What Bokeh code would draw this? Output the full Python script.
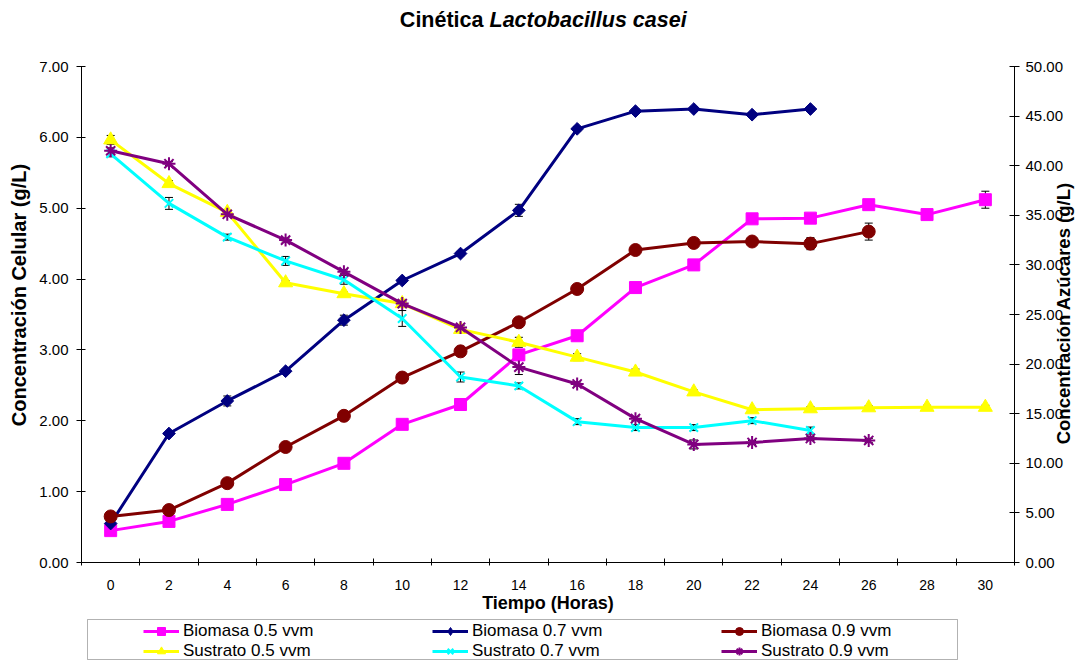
import math
from bokeh.plotting import figure
from bokeh.layouts import column
from bokeh.models import (Range1d, LinearAxis, FixedTicker, PrintfTickFormatter, Legend,
                          LegendItem, ColumnDataSource, Whisker, TeeHead, Label, BoxAnnotation)
from bokeh.embed import file_html
from bokeh.resources import INLINE

# ---------------- data ----------------
hours = [0, 2, 4, 6, 8, 10, 12, 14, 16, 18, 20, 22, 24, 26, 28, 30]

bio05 = [0.45, 0.58, 0.82, 1.10, 1.40, 1.95, 2.23, 2.93, 3.20, 3.88, 4.20, 4.85, 4.86, 5.05, 4.91, 5.12]
bio05_err = [0.02, 0.02, 0.02, 0.02, 0.02, 0.03, 0.03, 0.03, 0.03, 0.03, 0.03, 0.04, 0.03, 0.04, 0.03, 0.12]

bio07 = [0.55, 1.82, 2.28, 2.70, 3.42, 3.98, 4.36, 4.97, 6.12, 6.37, 6.40, 6.32, 6.40]
bio07_err = [0.03, 0.03, 0.07, 0.03, 0.07, 0.03, 0.03, 0.085, 0.03, 0.03, 0.03, 0.03, 0.03]

bio09 = [0.65, 0.74, 1.12, 1.63, 2.07, 2.61, 2.98, 3.39, 3.86, 4.41, 4.51, 4.53, 4.50, 4.67]
bio09_err = [0.02, 0.02, 0.02, 0.05, 0.02, 0.02, 0.02, 0.02, 0.02, 0.02, 0.02, 0.02, 0.085, 0.12]

sus05 = [42.6, 38.2, 35.3, 28.2, 27.1, 26.1, 23.5, 22.2, 20.7, 19.2, 17.2, 15.4, 15.5, 15.6, 15.65, 15.65]
sus05_err = [0.45, 0.3, 0.2, 0.2, 0.2, 0.2, 0.2, 0.5, 0.35, 0.3, 0.2, 0.2, 0.2, 0.2, 0.2, 0.2]

sus07 = [41.2, 36.2, 32.8, 30.4, 28.5, 24.6, 18.7, 17.8, 14.2, 13.6, 13.6, 14.3, 13.3]
sus07_err = [0.3, 0.6, 0.3, 0.45, 0.45, 0.8, 0.5, 0.3, 0.3, 0.3, 0.3, 0.3, 0.35]

sus09 = [41.5, 40.2, 35.1, 32.5, 29.3, 26.1, 23.7, 19.7, 18.0, 14.5, 11.9, 12.1, 12.5, 12.3]
sus09_err = [0.3, 0.2, 0.2, 0.2, 0.2, 0.2, 0.2, 0.75, 0.2, 0.2, 0.45, 0.2, 0.2, 0.2]

cell_ticks = [0, 1, 2, 3, 4, 5, 6, 7]
sugar_ticks = [0, 5, 10, 15, 20, 25, 30, 35, 40, 45, 50]

title_plain = "Cinética"
title_italic = "Lactobacillus casei"
x_label = "Tiempo (Horas)"
y_label = "Concentración Celular (g/L)"
y2_label = "Concentración Azúcares (g/L)"

# ---------------- layout constants (page px) ----------------
W = 1087
TITLE_H = 40
MAIN_BOTTOM = 616
LEG_H = 661 - MAIN_BOTTOM
FL, FR, FT, FB = 81, 1014, 66, 562   # frame edges on the page
FONT = "Liberation Sans"
NBSP = "\u00a0"


def bare_fig(h, xr, yr):
    f = figure(width=W, height=h, output_backend="svg", toolbar_location=None,
               x_axis_location=None, y_axis_location=None,
               x_range=xr, y_range=yr,
               min_border_left=0, min_border_right=0, min_border_top=0, min_border_bottom=0)
    f.outline_line_color = None
    f.xgrid.visible = False
    f.ygrid.visible = False
    f.background_fill_color = "white"
    f.border_fill_color = "white"
    return f


# ---------------- title figure (frame is aligned with the main frame: x from FL) ----------------
tf = bare_fig(TITLE_H, Range1d(0, 1), Range1d(0, 1))
split_x = 489 - FL
base_y = TITLE_H - 27 + 8
tf.add_layout(Label(x=split_x - 6, y=base_y, x_units="screen", y_units="screen", text=title_plain,
                    text_font=FONT, text_font_style="bold", text_font_size="21.5px",
                    text_align="right", text_baseline="alphabetic", text_color="black"))
tf.add_layout(Label(x=split_x, y=base_y, x_units="screen", y_units="screen", text=title_italic,
                    text_font=FONT, text_font_style="bold italic", text_font_size="21.5px",
                    text_align="left", text_baseline="alphabetic", text_color="black"))

# ---------------- main figure ----------------
step = hours[1] - hours[0]
MAIN_H = MAIN_BOTTOM - TITLE_H
p = figure(width=W, height=MAIN_H, output_backend="svg", toolbar_location=None,
           x_range=Range1d(hours[0] - step / 2, hours[-1] + step / 2),
           y_range=Range1d(cell_ticks[0], cell_ticks[-1]),
           min_border_left=FL, min_border_right=W - FR,
           min_border_top=FT - TITLE_H, min_border_bottom=MAIN_BOTTOM - FB)
p.extra_y_ranges = {"sug": Range1d(sugar_ticks[0], sugar_ticks[-1])}
p.xgrid.visible = False
p.ygrid.visible = False
p.outline_line_color = None
p.background_fill_color = "white"
p.border_fill_color = "white"

# x axis
xa = p.xaxis[0]
xa.ticker = FixedTicker(ticks=hours, minor_ticks=[h - step / 2 for h in hours] + [hours[-1] + step / 2])
xa.major_tick_in = 0
xa.major_tick_out = 0
xa.minor_tick_in = 4
xa.minor_tick_out = 3
xa.minor_tick_line_color = "black"
xa.major_label_standoff = 14
xa.major_label_text_font = FONT
xa.major_label_text_font_size = "14px"
xa.major_label_text_color = "black"
xa.axis_line_color = "black"
xa.axis_label = x_label
xa.axis_label_text_font = FONT
xa.axis_label_text_font_size = "18px"
xa.axis_label_text_font_style = "bold"
xa.axis_label_text_color = "black"
xa.axis_label_standoff = 0

# left axis (label sits a little above the axis centre, as in the original)
ya = p.yaxis[0]
ya.ticker = FixedTicker(ticks=cell_ticks, minor_ticks=[])
ya.formatter = PrintfTickFormatter(format="%.2f")
ya.major_tick_in = 4
ya.major_tick_out = 5
ya.major_tick_line_color = "black"
ya.major_label_standoff = 8
ya.major_label_text_font = FONT
ya.major_label_text_font_size = "15px"
ya.major_label_text_color = "black"
ya.axis_line_color = "black"
ya.axis_label = NBSP * 7 + y_label
ya.axis_label_text_font = FONT
ya.axis_label_text_font_size = "20px"
ya.axis_label_text_font_style = "bold"
ya.axis_label_text_color = "black"
ya.axis_label_standoff = 6

# right axis (label reads bottom-to-top, starting ~120px above the axis start)
ra = LinearAxis(y_range_name="sug", ticker=FixedTicker(ticks=sugar_ticks, minor_ticks=[]),
                formatter=PrintfTickFormatter(format="%.2f"))
ra.major_tick_in = 5
ra.major_tick_out = 5
ra.major_tick_line_color = "black"
ra.major_label_standoff = 6
ra.major_label_text_font = FONT
ra.major_label_text_font_size = "15px"
ra.major_label_text_color = "black"
ra.axis_line_color = "black"
ra.axis_label = NBSP * 23 + y2_label
ra.axis_label_text_font = FONT
ra.axis_label_text_font_size = "18.5px"
ra.axis_label_text_font_style = "bold"
ra.axis_label_text_color = "black"
ra.axis_label_standoff = -3
ra.axis_label_orientation = math.pi / 2
ra.axis_label_align = "start"
p.add_layout(ra, "right")

# ---------------- series ----------------
# (name, values, errors, colour, marker, size, angle, legend marker, y range)
series = [
    ("Biomasa 0.5 vvm", bio05, bio05_err, "#FF00FF", "square", 12, 0.0, "square", "default"),
    ("Biomasa 0.7 vvm", bio07, bio07_err, "#000080", "square", 9, math.pi / 4, "diamond", "default"),
    ("Biomasa 0.9 vvm", bio09, bio09_err, "#800000", "circle", 13, 0.0, "circle", "default"),
    ("Sustrato 0.5 vvm", sus05, sus05_err, "#FFFF00", "triangle", 14, 0.0, "triangle", "sug"),
    ("Sustrato 0.7 vvm", sus07, sus07_err, "#00FFFF", "x", 12, 0.0, "x", "sug"),
    ("Sustrato 0.9 vvm", sus09, sus09_err, "#800080", "asterisk", 13, 0.0, "asterisk", "sug"),
]

# legend figure: same series drawn again, but its view range holds none of the data,
# so only the legend swatches show
lf = bare_fig(LEG_H, Range1d(-3, -2), Range1d(-3, -2))
items = []
for name, vals, errs, color, marker, size, ang, lmarker, rng in series:
    xs = hours[:len(vals)]
    src = ColumnDataSource(dict(x=xs, y=vals,
                                upper=[v + e for v, e in zip(vals, errs)],
                                lower=[v - e for v, e in zip(vals, errs)]))
    filled = marker in ("square", "circle", "triangle")
    fill = color if filled else None
    lw = 1 if filled else 2
    p.line("x", "y", source=src, line_color=color, line_width=3, y_range_name=rng)
    p.scatter("x", "y", source=src, y_range_name=rng, marker=marker, size=size, angle=ang,
              fill_color=fill, line_color=color, line_width=lw)
    p.add_layout(Whisker(source=src, base="x", upper="upper", lower="lower", dimension="height",
                         line_color="black", line_width=1, y_range_name=rng,
                         upper_head=TeeHead(size=8, line_color="black", line_width=1),
                         lower_head=TeeHead(size=8, line_color="black", line_width=1)))
    ln = lf.line("x", "y", source=src, line_color=color, line_width=3)
    sc = lf.scatter("x", "y", source=src, marker=lmarker, size=size,
                    fill_color=fill, line_color=color, line_width=lw)
    items.append(LegendItem(label=name, renderers=[ln, sc]))

legend = Legend(items=items, location=(143 - FL, 0), orientation="horizontal", ncols=3,
                border_line_alpha=0, background_fill_alpha=0, padding=0, margin=0, spacing=0,
                glyph_width=36, glyph_height=20, label_width=249, label_height=16, label_standoff=4,
                label_text_font=FONT, label_text_font_size="17px", label_text_color="black")
lf.add_layout(legend)

box_l, box_t, box_r, box_b = 87, 619, 957, 659    # page px
lf.add_layout(BoxAnnotation(left=box_l - FL, right=box_r - FL,
                            top=MAIN_BOTTOM + LEG_H - box_t, bottom=MAIN_BOTTOM + LEG_H - box_b,
                            left_units="screen", right_units="screen",
                            top_units="screen", bottom_units="screen",
                            fill_color=None, fill_alpha=0, line_color="black", line_width=1))

layout = column(tf, p, lf, spacing=0)
open("out.html", "w").write(file_html(layout, INLINE))
